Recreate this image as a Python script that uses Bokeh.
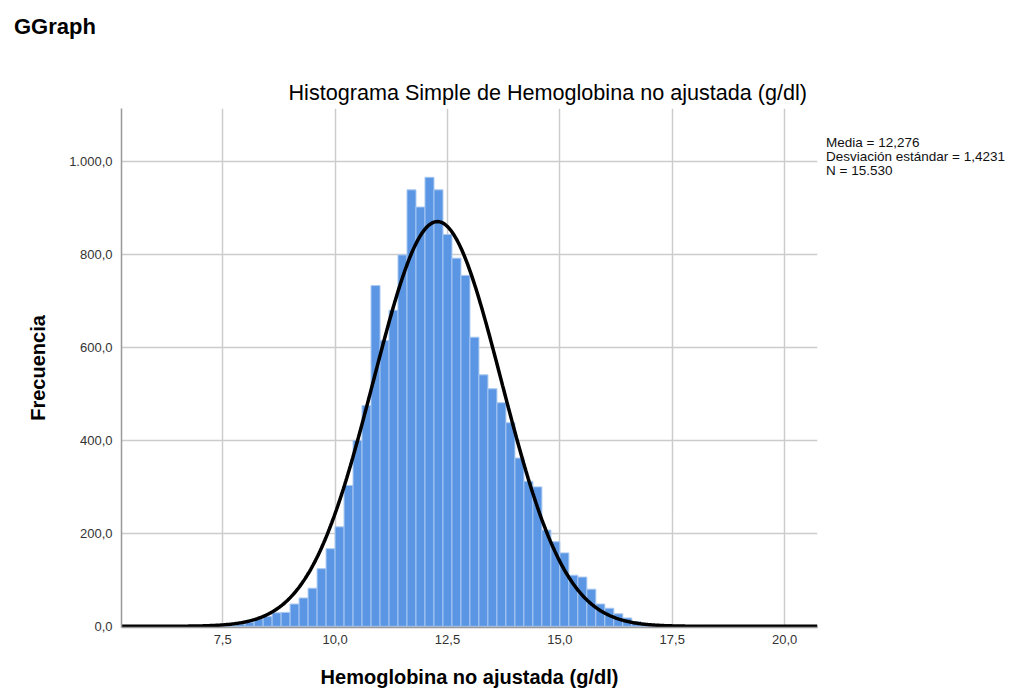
import numpy as np
from bokeh.plotting import figure
from bokeh.layouts import row, column
from bokeh.models import (ColumnDataSource, Range1d, FixedTicker, Title, Div,
                          CustomJSTickFormatter)
from bokeh.embed import file_html
from bokeh.resources import INLINE

# ---------------- data ----------------
bin_left = [7.4, 7.6, 7.8, 8.0, 8.2, 8.4, 8.6, 8.8, 9.0, 9.2, 9.4, 9.6, 9.8,
            10.0, 10.2, 10.4, 10.6, 10.8, 11.0, 11.2, 11.4, 11.6, 11.8,
            12.0, 12.2, 12.4, 12.6, 12.8, 13.0, 13.2, 13.4, 13.6, 13.8,
            14.0, 14.2, 14.4, 14.6, 14.8, 15.0, 15.2, 15.4, 15.6, 15.8,
            16.0, 16.2, 16.4, 16.6, 16.8, 17.0]
counts = [1, 3, 5, 9, 16, 21, 29, 30, 48, 61, 82, 124, 167,
          214, 303, 400, 475, 733, 615, 680, 799, 939, 902,
          966, 939, 843, 792, 755, 622, 541, 511, 481, 438,
          362, 312, 300, 207, 182, 158, 110, 106, 80, 48,
          39, 27, 18, 10, 5, 2]
BIN_WIDTH = 0.2
MEAN = 12.276
SD = 1.4231
N = 15530

x_ticks = [7.5, 10.0, 12.5, 15.0, 17.5, 20.0]
y_ticks = [0, 200, 400, 600, 800, 1000]

page_title = "GGraph"
title_text = "Histograma Simple de Hemoglobina no ajustada (g/dl)"
x_label = "Hemoglobina no ajustada (g/dl)"
y_label = "Frecuencia"
stats_lines = ["Media = 12,276", "Desviación estándar = 1,4231", "N = 15.530"]

X_MIN, X_MAX = 5.25, 20.73
Y_MIN, Y_MAX = -2.5, 1114

# ---------------- layout constants ----------------
FONT = "Liberation Sans"
HEAD_H = 40                  # height taken by the "GGraph" header
FIG_TOP = HEAD_H             # page y of the figure's top
FRAME_L, FRAME_T = 121, 108  # page coords of the plot frame
FRAME_W, FRAME_H = 696, 519
W = 826
H = 692 - HEAD_H

header = Div(text=page_title, width=300, height=26, margin=(14, 0, 0, 14),
             styles={"font-family": FONT, "font-size": "22px",
                     "font-weight": "bold", "line-height": "26px",
                     "color": "black"})

p = figure(width=W, height=H, output_backend="svg", toolbar_location=None,
           x_range=Range1d(X_MIN, X_MAX), y_range=Range1d(Y_MIN, Y_MAX),
           min_border_left=FRAME_L, min_border_right=W - FRAME_L - FRAME_W,
           min_border_top=FRAME_T - FIG_TOP,
           min_border_bottom=H - (FRAME_T - FIG_TOP) - FRAME_H)
p.outline_line_color = None
p.background_fill_color = "white"
p.border_fill_color = "white"

src = ColumnDataSource(dict(left=bin_left,
                            right=[b + BIN_WIDTH for b in bin_left],
                            top=counts))
p.quad(left="left", right="right", top="top", bottom=0, source=src,
       fill_color="#5A96E3", line_color="#A9C8F2", line_width=1)

# fitted normal curve from the reported statistics
xs = np.linspace(X_MIN, X_MAX, 600)
ys = N * BIN_WIDTH / (SD * np.sqrt(2 * np.pi)) * np.exp(-0.5 * ((xs - MEAN) / SD) ** 2)
p.line(xs, ys, line_color="black", line_width=3.5)

fmt = CustomJSTickFormatter(code="""
const s = tick.toFixed(1);
let parts = s.split('.');
let ip = parts[0].replace(/\\B(?=(\\d{3})+(?!\\d))/g, '.');
return ip + ',' + parts[1];
""")

for ax in (p.xaxis[0], p.yaxis[0]):
    ax.formatter = fmt
    ax.major_tick_line_color = None
    ax.minor_tick_line_color = None
    ax.axis_line_color = "#999999"
    ax.axis_line_width = 1.5
    ax.major_label_text_font = FONT
    ax.major_label_text_font_size = "13px"
    ax.major_label_text_color = "#333333"
    ax.axis_label_text_font = FONT
    ax.axis_label_text_font_size = "20px"
    ax.axis_label_text_font_style = "bold"
    ax.axis_label_text_color = "black"

p.xaxis.ticker = FixedTicker(ticks=x_ticks)
p.yaxis.ticker = FixedTicker(ticks=y_ticks)
p.xaxis.axis_label = x_label
p.yaxis.axis_label = y_label
p.xaxis.major_label_standoff = 1
p.xaxis.axis_label_standoff = 19
p.yaxis.major_label_standoff = 3
p.yaxis.axis_label_standoff = 17

p.xgrid.ticker = FixedTicker(ticks=x_ticks)
p.ygrid.ticker = FixedTicker(ticks=y_ticks)
for g in (p.xgrid[0], p.ygrid[0]):
    g.grid_line_color = "#cccccc"
    g.grid_line_width = 1.5

# chart title (above panel)
p.add_layout(Title(text=title_text, align="left", offset=288 - FRAME_L,
                   text_font=FONT, text_font_size="21.6px",
                   text_font_style="normal", text_color="black",
                   standoff=8), "above")

# statistics text to the right of the chart
stats = Div(text="<br>".join(stats_lines), width=185, height=200,
            margin=(136 - FIG_TOP, 0, 0, 0),
            styles={"font-family": FONT, "font-size": "13.5px",
                    "line-height": "14px", "color": "#111111"})

layout = column(header, row(p, stats))
open("out.html", "w").write(file_html(layout, INLINE))
